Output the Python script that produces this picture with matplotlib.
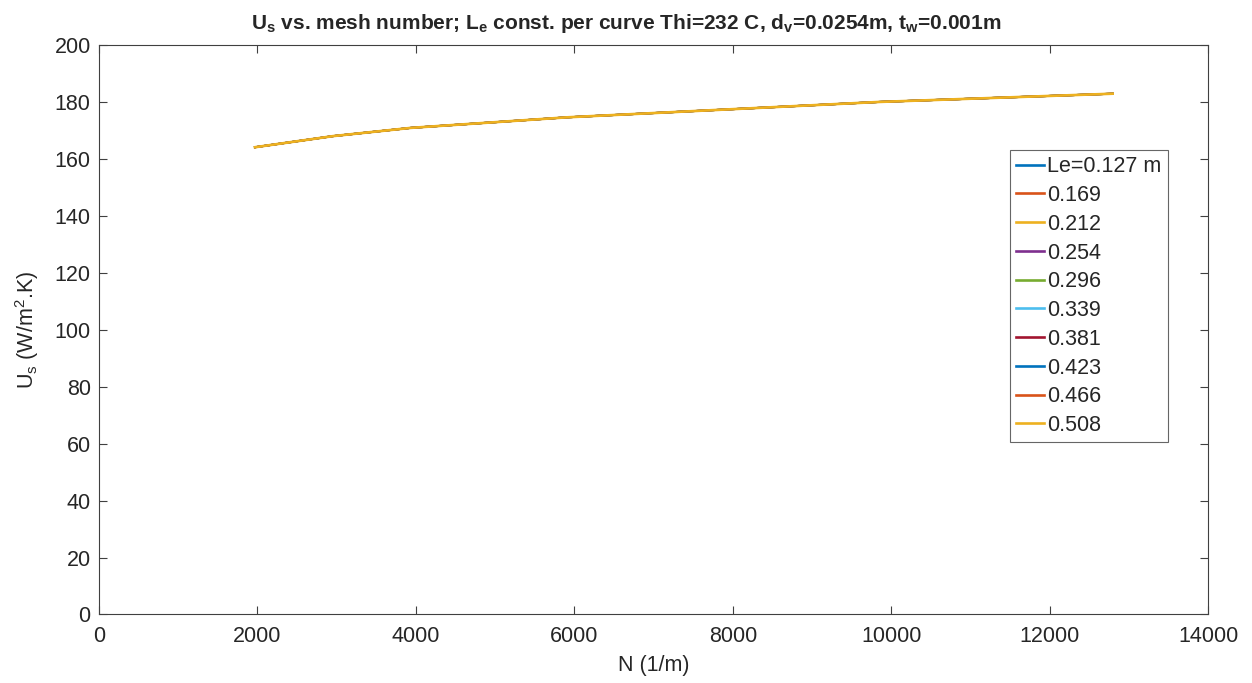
import matplotlib
matplotlib.use("Agg")
import matplotlib.pyplot as plt
import numpy as np

# mesh numbers (1/m) and overall coefficient Us (W/m^2.K)
mesh_n = [1968.5, 2952.8, 3937.0, 5905.5, 7874.0, 9842.5, 12795.3]
us_vals = [164.1, 168.0, 170.9, 174.6, 177.3, 180.0, 182.9]

# wick lengths, one curve each (all curves coincide)
le_vals = ["0.127", "0.169", "0.212", "0.254", "0.296", "0.339", "0.381", "0.423", "0.466", "0.508"]
le_colors = ["#0072BD", "#D95319", "#EDB120", "#7E2F8E", "#77AC30",
             "#4DBEEE", "#A2142F", "#0072BD", "#D95319", "#EDB120"]

plt.rcParams['font.family'] = ['Liberation Sans', 'DejaVu Sans']
plt.rcParams['mathtext.fontset'] = 'custom'
plt.rcParams['mathtext.rm'] = 'Liberation Sans'
plt.rcParams['mathtext.bf'] = 'Liberation Sans:bold'
txt = "#262626"

fig = plt.figure(figsize=(12.52, 6.83), dpi=100)
ax = fig.add_axes([0.0791, 0.1003, 0.8858, 0.8338])

for i, le in enumerate(le_vals):
    lab = "Le=" + le + " m" if i == 0 else le
    # last curve on top; the ones underneath a bit thinner so no fringe shows
    lw = 1.9 if i == len(le_vals) - 1 else 1.4
    ln, = ax.plot(mesh_n, us_vals, color=le_colors[i], lw=lw, label=lab)

ax.set_xlim(0, 14000)
ax.set_ylim(0, 200)
ax.set_xticks(np.arange(0, 14001, 2000))
ax.set_yticks(np.arange(0, 201, 20))
ax.tick_params(direction="in", length=6, width=0.8, colors="#404040",
               labelcolor=txt, labelsize=15.5, top=True, right=True)
ax.tick_params(axis="x", pad=8)
ax.tick_params(axis="y", pad=6)
for s in ax.spines.values():
    s.set_color("#404040")
    s.set_linewidth(0.8)

ax.set_xlabel("N (1/m)", fontsize=15.5, color=txt, labelpad=6)
ax.set_ylabel(r"U$_\mathregular{s}$ (W/m$^\mathregular{2}$.K)", fontsize=15.5, color=txt, labelpad=10)

fig.text(0.5, 0.966,
         r"U$_\mathbf{s}$ vs. mesh number; L$_\mathbf{e}$ const. per curve Thi=232 C, "
         r"d$_\mathbf{v}$=0.0254m, t$_\mathbf{w}$=0.001m",
         ha="center", va="center", fontsize=15, fontweight="bold", color=txt)

leg = ax.legend(loc="upper right", bbox_to_anchor=(0.964, 0.816), fontsize=15.5,
                frameon=True, fancybox=False, handlelength=1.3, handletextpad=0.15,
                labelspacing=0.36, borderpad=0.3, borderaxespad=0)
leg.get_frame().set_edgecolor("#404040")
leg.get_frame().set_linewidth(0.8)
for t in leg.get_texts():
    t.set_color(txt)
for h in leg.get_lines():
    h.set_linewidth(1.9)

fig.savefig("out.png", dpi=100)
